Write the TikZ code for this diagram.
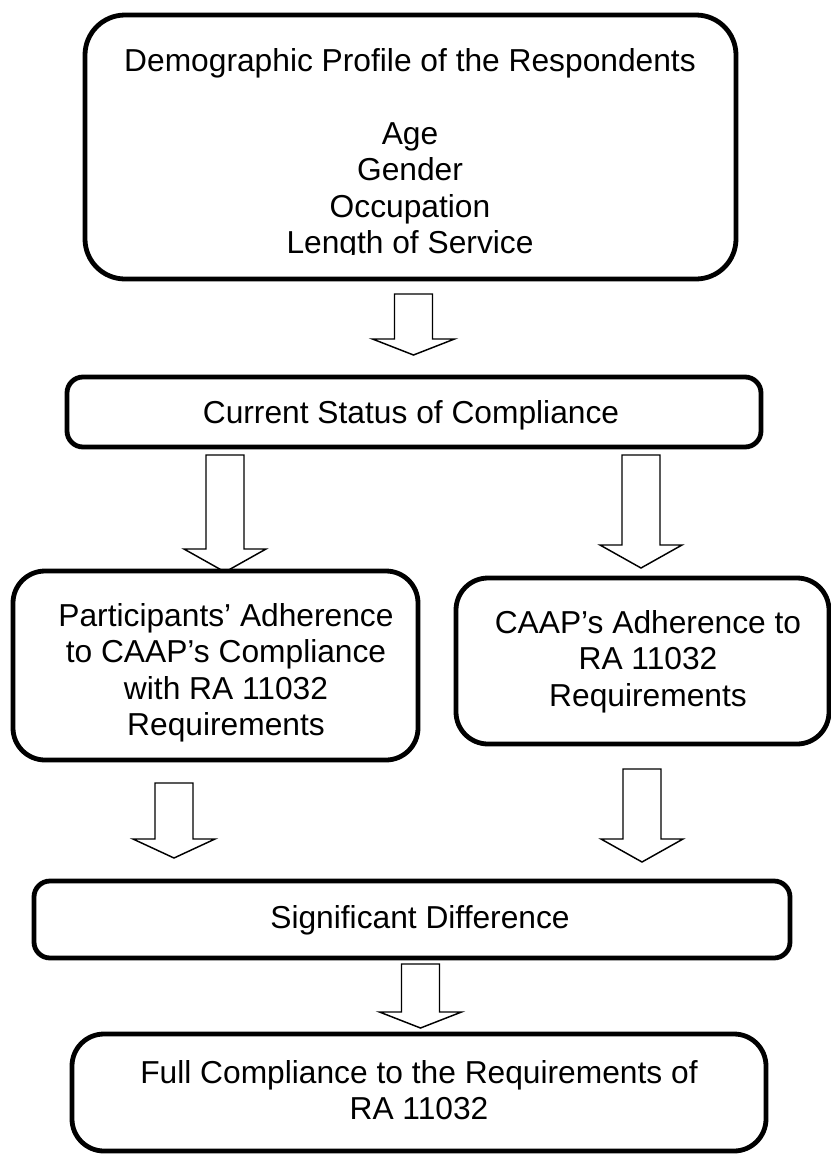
\documentclass[tikz,border=0pt]{standalone}
\usepackage{fontspec}
\setmainfont{Liberation Sans}
\usetikzlibrary{fit}
\tikzset{
  x=0.75pt, y=-0.75pt,
  box/.style={draw=black, line width=3.6pt, inner sep=0pt},
  bigbox/.style={box, rounded corners=30pt},
  midbox/.style={box, rounded corners=24pt},
  thinbox/.style={box, rounded corners=12pt},
  txt/.style={inner sep=0pt, align=center, anchor=north,
    font=\fontsize{23.8pt}{27.4pt}\selectfont},
  blockarrow/.style={draw=black, line width=1.1pt, line join=miter}
}
\newcommand\blockarr[4]{%
  \draw[blockarrow] ({#1-19},#2) -- ({#1+19},#2) -- ({#1+19},#3) -- ({#1+41},#3)
    -- (#1,#4) -- ({#1-41},#3) -- ({#1-19},#3) -- cycle;}
\newcommand\fs{\rule{0pt}{20pt}}
\begin{document}
\begin{tikzpicture}
\useasboundingbox (0,0) rectangle (831,1154);
% block arrows
\blockarr{413.5}{294}{339}{355}
\blockarr{225}{455}{549}{572}
\blockarr{641}{455}{545}{568}
\blockarr{174}{783}{839}{858}
\blockarr{642}{769}{839}{862}
\blockarr{420.5}{964}{1012}{1028}
% boxes
\node[bigbox, fit={(85,15) (736,279)}] (b1) {};
\node[thinbox, fit={(67,377) (761,447)}] (b2) {};
\node[midbox, fit={(13,571) (418,760)}] (b3) {};
\node[midbox, fit={(456,578) (829,744)}] (b4) {};
\node[thinbox, fit={(34,881) (790,958)}] (b5) {};
\node[midbox, fit={(72,1034) (766,1151)}] (b6) {};
% texts
\begin{scope}
\clip (0,0) rectangle (831,254);
\node[txt] (t1) at (410,44.3) {\fs Demographic Profile of the Respondents\\[27.4pt]Age\\Gender\\Occupation\\Length of Service};
\end{scope}
\node[txt] (t2) at (411,396.3) {\fs Current Status of Compliance};
\node[txt] (t3) at (226,599.3) {\fs Participants’ Adherence\\to CAAP’s Compliance\\with RA 11032\\Requirements};
\node[txt] (t4) at (648,606.3) {\fs CAAP’s Adherence to\\RA 11032\\Requirements};
\node[txt] (t5) at (420,901.3) {\fs Significant Difference};
\node[txt] (t6) at (419,1056.3) {\fs Full Compliance to the Requirements of\\RA 11032};
\end{tikzpicture}
\end{document}
